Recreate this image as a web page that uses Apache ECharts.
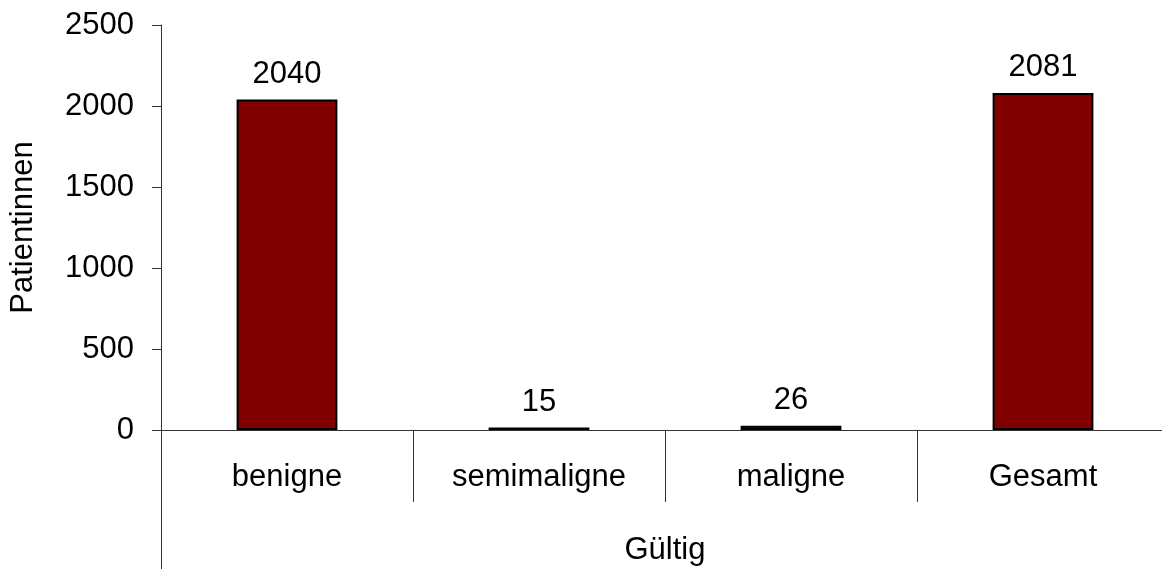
<!DOCTYPE html>
<html>
<head>
<meta charset="utf-8">
<script src="https://cdn.jsdelivr.net/npm/echarts@6/dist/echarts.min.js"></script>
<style>
  html, body { margin: 0; padding: 0; background: #fff; overflow: hidden; }
  #chart { width: 1170px; height: 569px; }
</style>
</head>
<body>
<div id="chart"></div>
<script>
// Kategorien und Werte
var categories = ['benigne', 'semimaligne', 'maligne', 'Gesamt'];
var patientinnen = [2040, 15, 26, 2081];
var groupLabels = ['Gültig'];

var chart = echarts.init(document.getElementById('chart'), null, { renderer: 'canvas' });
var font = 'Liberation Sans, Arial, sans-serif';
var axisColor = '#333';
var fs = 31;

var option = {
  backgroundColor: '#fff',
  animation: false,
  textStyle: { fontFamily: font, color: '#000' },
  // Zeichenfläche reicht rechts etwas über das Fenster hinaus (wie im Original)
  grid: { left: 161, right: 1, top: 25, bottom: 139, containLabel: false },
  xAxis: [
    {
      type: 'category',
      data: categories,
      axisLine: { show: true, lineStyle: { color: axisColor, width: 1 } },
      axisTick: { show: true, interval: 0, length: 72, lineStyle: { color: axisColor } },
      axisLabel: { interval: 0, fontSize: fs, color: '#000', margin: 32, fontFamily: font }
    },
    {
      // zweite Ebene der Kategorien (Gültig)
      type: 'category',
      position: 'bottom',
      data: groupLabels,
      axisLine: { show: false },
      axisTick: { show: true, interval: 0, length: 145, lineStyle: { color: axisColor } },
      axisLabel: { interval: 0, fontSize: fs, color: '#000', margin: 105, fontFamily: font }
    }
  ],
  yAxis: {
    type: 'value',
    min: 0,
    max: 2500,
    interval: 500,
    name: 'Patientinnen',
    nameLocation: 'middle',
    nameGap: 122,
    nameTextStyle: { fontSize: fs, color: '#000', fontFamily: font },
    axisLine: { show: true, lineStyle: { color: axisColor, width: 1 } },
    axisTick: { show: true, length: 9, lineStyle: { color: axisColor } },
    axisLabel: {
      fontSize: fs, color: '#000', margin: 27, fontFamily: font,
      formatter: function (v) { return String(v); }
    },
    splitLine: { show: false }
  },
  series: [
    {
      type: 'bar',
      xAxisIndex: 0,
      data: patientinnen,
      barWidth: '40%',
      itemStyle: { color: '#800000', borderColor: '#000', borderWidth: 2 },
      label: {
        show: true,
        position: 'top',
        distance: 10,
        fontSize: fs,
        color: '#000',
        fontFamily: font
      }
    }
  ]
};

chart.setOption(option);
</script>
</body>
</html>
